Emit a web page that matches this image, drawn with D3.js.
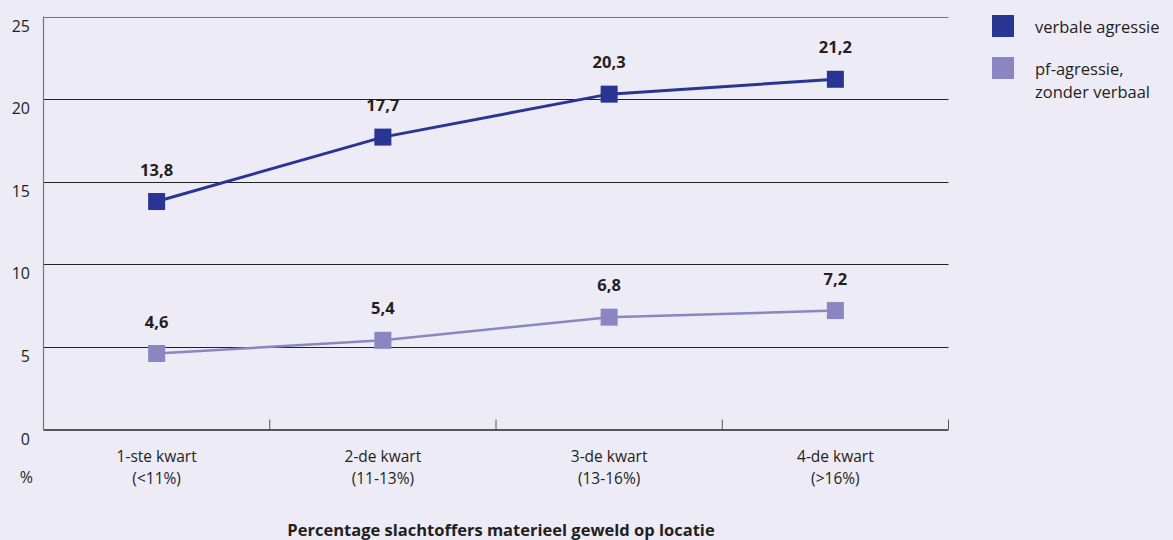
<!DOCTYPE html>
<html>
<head>
<meta charset="utf-8">
<script src="https://cdn.jsdelivr.net/npm/d3@7"></script>
<style>
  html, body { margin: 0; padding: 0; background: #edebf6; }
  svg { display: block; font-family: "Open Sans", "Noto Sans", sans-serif; }
</style>
</head>
<body>
<svg id="chart" width="1173" height="540"></svg>
<script>
// Quartiles of locations by share of victims of property violence
const categories = ["1-ste kwart|(<11%)", "2-de kwart|(11-13%)", "3-de kwart|(13-16%)", "4-de kwart|(>16%)"];
const verbal = [13.8, 17.7, 20.3, 21.2];
const physical = [4.6, 5.4, 6.8, 7.2];
const yTicks = [0, 5, 10, 15, 20, 25];
const seriesNames = ["verbale agressie", "pf-agressie,|zonder verbaal"];
const seriesColors = ["#283593", "#8a86c2"];

const svg = d3.select("#chart");
const plotLeft = 43.5, plotRight = 948.5, plotTop = 16.5, plotBottom = 429.5;

const x = d3.scaleBand().domain(categories).range([plotLeft, plotRight]);
const y = d3.scaleLinear().domain([0, 25]).range([plotBottom, plotTop]);

// horizontal gridlines
svg.append("g").selectAll("line").data(yTicks.filter(d => d > 0)).join("line")
  .attr("x1", plotLeft).attr("x2", plotRight)
  .attr("y1", d => Math.round(y(d)) + 0.5).attr("y2", d => Math.round(y(d)) + 0.5)
  .attr("stroke", d => d === 25 ? "#777" : "#222").attr("stroke-width", 1);

// y tick labels
svg.append("g").selectAll("text").data(yTicks).join("text")
  .attr("x", 30).attr("y", d => y(d) + 15)
  .attr("text-anchor", "end").attr("font-size", 16).attr("fill", "#231f20")
  .text(d => d);
svg.append("text").attr("x", 33).attr("y", 483).attr("text-anchor", "end")
  .attr("font-size", 16).attr("fill", "#231f20").text("%");

// axis lines
svg.append("line").attr("x1", plotLeft).attr("x2", plotLeft).attr("y1", plotTop).attr("y2", plotBottom)
  .attr("stroke", "#777").attr("stroke-width", 1.2);
svg.append("line").attr("x1", plotLeft).attr("x2", plotRight).attr("y1", plotBottom + 0.5).attr("y2", plotBottom + 0.5)
  .attr("stroke", "#222").attr("stroke-width", 1.5);

// x tick marks at band boundaries
svg.append("g").selectAll("line").data(categories).join("line")
  .attr("x1", d => x(d) + x.bandwidth()).attr("x2", d => x(d) + x.bandwidth())
  .attr("y1", plotBottom).attr("y2", plotBottom - 10)
  .attr("stroke", "#555").attr("stroke-width", 1);

// x category labels (two lines)
const xl = svg.append("g").selectAll("text").data(categories).join("text")
  .attr("text-anchor", "middle").attr("font-size", 15.5).attr("fill", "#231f20");
xl.each(function(d) {
  const parts = d.split("|");
  const cx = x(d) + x.bandwidth() / 2;
  d3.select(this).selectAll("tspan").data(parts).join("tspan")
    .attr("x", cx).attr("y", (p, i) => 462 + i * 21.5).text(p => p);
});

// axis title
svg.append("text").attr("x", 501).attr("y", 536).attr("text-anchor", "middle")
  .attr("font-size", 16.5).attr("font-weight", "bold").attr("fill", "#231f20")
  .text("Percentage slachtoffers materieel geweld op locatie");

// lines, markers and value labels
const series = [verbal, physical];
const line = d3.line().x((d, i) => x(categories[i]) + x.bandwidth() / 2).y(d => y(d));
series.forEach((vals, s) => {
  const g = svg.append("g");
  g.append("path").datum(vals).attr("d", line).attr("fill", "none")
    .attr("stroke", seriesColors[s]).attr("stroke-width", s === 0 ? 3 : 2.5);
  g.selectAll("rect").data(vals).join("rect")
    .attr("x", (d, i) => x(categories[i]) + x.bandwidth() / 2 - 8.5)
    .attr("y", d => y(d) - 8.5)
    .attr("width", 17).attr("height", 17).attr("fill", seriesColors[s]);
  g.selectAll("text").data(vals).join("text")
    .attr("x", (d, i) => x(categories[i]) + x.bandwidth() / 2)
    .attr("y", d => y(d) - 26)
    .attr("text-anchor", "middle").attr("font-size", 16.5).attr("font-weight", "bold")
    .attr("fill", "#231f20")
    .text(d => d.toFixed(1).replace(".", ","));
});

// legend
seriesNames.forEach((name, s) => {
  const ly = 15 + s * 42;
  svg.append("rect").attr("x", 992).attr("y", ly).attr("width", 22).attr("height", 22)
    .attr("fill", seriesColors[s]);
  const t = svg.append("text").attr("font-size", 16.5).attr("fill", "#231f20");
  name.split("|").forEach((p, i) => {
    t.append("tspan").attr("x", 1035).attr("y", ly + 18 + i * 22.5).text(p);
  });
});
</script>
</body>
</html>
